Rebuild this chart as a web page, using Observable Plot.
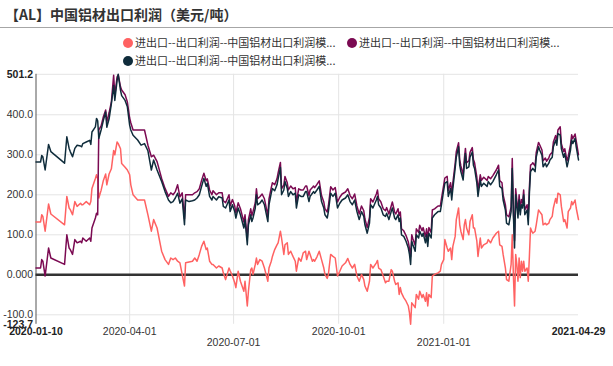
<!DOCTYPE html>
<html><head><meta charset="utf-8">
<script src="https://cdn.jsdelivr.net/npm/d3@7"></script>
<script src="https://cdn.jsdelivr.net/npm/@observablehq/plot@0.6"></script>
<style>
body{margin:0;background:#fff;width:613px;height:366px;overflow:hidden;font-family:"Noto Sans CJK SC","Liberation Sans",sans-serif;}
#title{height:27px;line-height:28px;padding-left:5px;font-size:14px;font-weight:bold;color:#333;box-sizing:border-box;white-space:nowrap;}
#sep{height:1px;background:#a6a6a6;}
#legend{height:38px;box-sizing:border-box;padding:5px 0 0 123px;font-size:11px;color:#333;}
.row{height:18px;line-height:18px;white-space:nowrap;}
.item{display:inline-block;width:224px;}
.dot{display:inline-block;width:10px;height:10px;border-radius:50%;vertical-align:-1px;margin-right:2px;}
#chart svg{display:block}
</style></head><body>
<div id="title"></div><div id="sep"></div><div id="legend"></div><div id="chart"></div>
<script>
const titleText = "【AL】中国铝材出口利润（美元/吨）";
const seriesNames = ["进出口--出口利润--中国铝材出口利润模...", "进出口--出口利润--中国铝材出口利润模...", "进出口--出口利润--中国铝材出口利润模..."];
const seriesColors = ["#ff6262", "#7b0a52", "#0f2c3b"];

const dates = [
"2020-01-10","2020-01-14","2020-01-15","2020-01-16","2020-01-18","2020-01-21","2020-01-23",
"2020-02-04","2020-02-06","2020-02-08","2020-02-09","2020-02-11","2020-02-13","2020-02-15","2020-02-18","2020-02-19","2020-02-20","2020-02-23","2020-02-26","2020-02-27","2020-02-28",
"2020-03-02","2020-03-03","2020-03-04","2020-03-05","2020-03-07","2020-03-09","2020-03-11","2020-03-12","2020-03-14","2020-03-16","2020-03-18","2020-03-19","2020-03-21","2020-03-22","2020-03-24","2020-03-25","2020-03-28","2020-03-30",
"2020-04-01","2020-04-02","2020-04-04","2020-04-08","2020-04-11","2020-04-14","2020-04-17","2020-04-20","2020-04-22","2020-04-25","2020-04-29",
"2020-05-02","2020-05-05","2020-05-07","2020-05-09","2020-05-11","2020-05-13","2020-05-15","2020-05-17","2020-05-19","2020-05-20","2020-05-23","2020-05-26","2020-05-28","2020-05-30",
"2020-06-01","2020-06-03","2020-06-05","2020-06-07","2020-06-08","2020-06-10","2020-06-12","2020-06-13","2020-06-16","2020-06-18","2020-06-21","2020-06-22","2020-06-24","2020-06-27","2020-06-28","2020-06-30",
"2020-07-02","2020-07-03","2020-07-05","2020-07-07","2020-07-10","2020-07-11","2020-07-13","2020-07-14","2020-07-16","2020-07-17","2020-07-18","2020-07-20","2020-07-21","2020-07-22","2020-07-24","2020-07-26","2020-07-28","2020-07-31",
"2020-08-01","2020-08-03","2020-08-04","2020-08-06","2020-08-08","2020-08-09","2020-08-11","2020-08-12","2020-08-14","2020-08-15","2020-08-17","2020-08-18","2020-08-20","2020-08-22","2020-08-24","2020-08-25","2020-08-27","2020-08-29","2020-08-31",
"2020-09-02","2020-09-03","2020-09-05","2020-09-06","2020-09-08","2020-09-09","2020-09-10","2020-09-12","2020-09-14","2020-09-16","2020-09-18","2020-09-19","2020-09-21","2020-09-22","2020-09-24","2020-09-26","2020-09-28","2020-09-30",
"2020-10-02","2020-10-04","2020-10-07","2020-10-09","2020-10-11","2020-10-13","2020-10-15","2020-10-17","2020-10-19","2020-10-21","2020-10-23","2020-10-24","2020-10-26","2020-10-28","2020-10-29","2020-10-31",
"2020-11-03","2020-11-04","2020-11-05","2020-11-07","2020-11-09","2020-11-11","2020-11-12","2020-11-14","2020-11-16","2020-11-17","2020-11-19","2020-11-20","2020-11-22","2020-11-23","2020-11-24","2020-11-25","2020-11-27","2020-11-29",
"2020-12-01","2020-12-02","2020-12-03","2020-12-04","2020-12-05","2020-12-07","2020-12-08","2020-12-10","2020-12-11","2020-12-13","2020-12-14","2020-12-16","2020-12-17","2020-12-18","2020-12-19","2020-12-21","2020-12-22","2020-12-24","2020-12-27","2020-12-29","2020-12-30",
"2021-01-01","2021-01-02","2021-01-04","2021-01-05","2021-01-07","2021-01-08","2021-01-09","2021-01-11","2021-01-12","2021-01-14","2021-01-15","2021-01-16","2021-01-18","2021-01-19","2021-01-20","2021-01-21","2021-01-23","2021-01-24","2021-01-26","2021-01-27","2021-01-28","2021-01-30","2021-01-31",
"2021-02-02","2021-02-03","2021-02-05","2021-02-08","2021-02-09","2021-02-11","2021-02-13","2021-02-16","2021-02-18","2021-02-19","2021-02-21","2021-02-22","2021-02-24","2021-02-25","2021-02-27",
"2021-03-01","2021-03-02","2021-03-03","2021-03-04","2021-03-05","2021-03-06","2021-03-07","2021-03-08","2021-03-09","2021-03-10","2021-03-11","2021-03-12","2021-03-13","2021-03-15","2021-03-16","2021-03-17","2021-03-18","2021-03-19","2021-03-20","2021-03-22","2021-03-23","2021-03-25","2021-03-26","2021-03-28","2021-03-29","2021-03-31",
"2021-04-01","2021-04-03","2021-04-04","2021-04-06","2021-04-07","2021-04-09","2021-04-10","2021-04-11","2021-04-13","2021-04-14","2021-04-16","2021-04-17","2021-04-19","2021-04-20","2021-04-22","2021-04-23","2021-04-24","2021-04-26","2021-04-27","2021-04-29"
];

// series 1 (red)
const seriesRed = [
132,132,150,146,109,177,152,
125,196,167,163,150,183,171,179,175,175,183,175,183,216,
241,250,240,192,211,236,252,225,252,265,311,300,332,328,315,278,269,262,
250,225,200,187,187,187,150,109,138,117,59,
38,26,42,38,42,34,30,1,-28,30,32,34,42,34,
51,71,84,63,67,34,26,26,17,22,17,5,-12,17,10,-3,
-20,-32,9,-16,-41,-16,-78,-41,13,17,1,26,42,26,38,34,17,-16,
17,34,46,63,75,80,109,92,51,75,80,51,59,46,34,9,42,34,55,
59,38,59,51,34,38,34,45,59,38,17,1,-9,1,51,46,42,-3,
9,22,30,41,26,17,26,-3,-16,1,-12,-28,-41,-16,26,17,
30,36,17,13,-3,-20,-16,-16,13,9,-16,-24,-20,-49,-32,-45,-57,-66,
-78,-95,-123.7,-70,-74,-82,-49,-61,-41,-57,-49,-66,-45,-78,-49,-57,-3,1,5,9,26,
38,88,67,59,67,38,71,96,138,167,125,109,88,125,138,117,100,133,150,117,117,84,46,
92,67,75,80,88,80,92,104,109,75,71,51,17,-12,-16,
26,100,-3,-78,51,26,-16,42,-7,34,9,34,9,17,-16,46,117,109,104,109,125,162,158,150,125,129,
125,129,138,146,167,191,179,204,200,171,133,138,117,158,167,183,175,187,167,138
];

// series 2 (magenta)
const seriesMagenta = [
17,17,38,34,-3,67,42,
26,100,67,63,51,88,80,84,80,92,84,92,84,117,
142,154,150,362,372,395,412,382,405,432,499,448,495,500,470,462,450,432,
392,380,362,362,362,362,324,295,299,283,241,
216,196,205,200,208,225,195,205,140,200,200,200,205,208,
215,236,254,235,240,212,200,210,200,205,205,185,180,200,172,188,
172,155,180,165,132,150,90,138,165,148,158,180,215,190,195,202,190,148,
190,218,230,225,240,255,281,215,225,246,230,212,222,215,218,182,215,212,212,
222,222,198,212,218,222,218,226,235,198,182,165,157,172,220,212,218,182,
194,202,207,215,198,190,202,172,152,172,160,140,118,144,190,182,
202,212,190,182,165,160,168,152,172,182,157,152,165,148,157,115,110,98,
82,66,45,100,90,74,115,106,124,110,118,95,115,86,118,106,162,165,172,172,190,
225,242,246,210,230,202,230,278,308,330,288,272,250,288,316,280,285,306,318,288,280,244,212,
250,236,244,236,246,240,248,262,274,236,230,200,175,150,145,
170,291,160,85,215,185,155,200,162,188,180,212,162,175,140,218,274,276,280,272,306,331,325,312,285,292,
284,292,300,306,332,348,336,362,370,328,308,315,285,296,325,350,340,352,335,300
];

// series 3 (navy)
const seriesNavy = [
282,282,298,295,262,326,308,
279,345,316,308,295,316,324,322,320,328,332,336,326,357,
370,391,385,341,362,386,407,369,390,428,473,436,486,501.2,461,448,436,420,
374,362,349,337,324,328,310,262,287,262,233,
208,187,180,183,192,204,179,190,125,187,183,185,187,192,
200,221,241,221,229,196,187,196,187,195,192,171,167,187,158,175,
158,142,167,150,117,138,75,125,150,133,142,167,200,175,179,187,175,133,
175,204,216,210,225,240,268,200,212,233,216,196,208,200,204,167,200,196,196,
208,208,183,196,204,208,204,212,221,183,167,150,142,158,204,196,204,167,
179,187,192,200,183,175,187,158,138,158,146,125,104,129,175,167,
187,196,175,167,150,146,154,138,158,167,142,138,150,133,142,100,96,84,
67,51,26,84,75,59,100,92,109,96,104,80,100,71,104,92,142,150,158,158,175,
212,229,233,196,216,187,216,266,294,320,274,258,237,274,303,266,270,294,307,274,266,229,196,
237,221,229,221,233,225,233,250,262,221,216,187,162,129,125,
158,266,150,67,200,171,142,187,150,175,167,200,150,162,125,204,258,262,266,258,294,320,312,299,270,279,
270,279,287,294,320,337,324,353,349,315,294,303,270,283,312,337,328,341,320,287
];

const yTicks = [501.2, 400, 300, 200, 100, 0, -100, -123.7];
const yTickLabels = ["501.2", "400.0", "300.0", "200.0", "100.0", "0.000", "-100.0", "-123.7"];
const xTicks = ["2020-01-10", "2020-04-01", "2020-07-01", "2020-10-01", "2021-01-01", "2021-04-29"];

// ---- header ----
document.getElementById("title").textContent = titleText;
const legend = document.getElementById("legend");
const rows = [[0, 1], [2]];
rows.forEach(r => {
  const row = document.createElement("div");
  row.className = "row";
  r.forEach(i => {
    const it = document.createElement("span");
    it.className = "item";
    const dot = document.createElement("span");
    dot.className = "dot";
    dot.style.background = seriesColors[i];
    it.appendChild(dot);
    it.appendChild(document.createTextNode(seriesNames[i]));
    row.appendChild(it);
  });
  legend.appendChild(row);
});

// ---- data tables ----
const parse = d => new Date(d + "T00:00:00Z");
const allSeries = [seriesRed, seriesMagenta, seriesNavy];
const tables = allSeries.map(s => dates.map((d, i) => ({date: parse(d), value: s[i]})));
const allVals = allSeries.flat();
const yMin = d3.min(allVals), yMax = d3.max(allVals);
const xDomain = [parse(dates[0]), parse(dates[dates.length - 1])];
const lastX = xTicks.length - 1;
const xTickData = xTicks.map((d, i) => ({
  date: parse(d), label: d,
  bold: i === 0 || i === lastX,
  low: i > 0 && i < lastX && i % 2 === 0
}));
const yTickData = yTicks.map((v, i) => ({v, label: yTickLabels[i], bold: i === 0 || i === yTicks.length - 1}));

const chart = Plot.plot({
  width: 613,
  height: 300,
  marginLeft: 35.5,
  marginRight: 35,
  marginTop: 7.8,
  marginBottom: 42.2,
  x: {type: "utc", domain: xDomain, axis: null},
  y: {domain: [yMin, yMax], axis: null},
  style: {fontFamily: "'Liberation Sans', Arial, sans-serif", fontSize: "10.5px", color: "#333", background: "#fff", overflow: "visible"},
  marks: [
    Plot.ruleY(yTicks.filter(v => v !== 0 && v !== yMin), {stroke: "#e4e4e4", strokeWidth: 1}),
    Plot.ruleX(xTickData.slice(1, -1), {x: "date", stroke: "#e4e4e4", strokeWidth: 1}),
    Plot.ruleX([xDomain[0]], {stroke: "#555", strokeWidth: 1}),
    Plot.ruleY([0], {stroke: "#333", strokeWidth: 2.5}),
    ...tables.map((t, i) => Plot.line(t, {x: "date", y: "value", stroke: seriesColors[i], strokeWidth: 1.5})),
    Plot.text(yTickData.filter(d => !d.bold), {y: "v", text: "label", frameAnchor: "left", textAnchor: "end", dx: -3, fill: "#333", fontWeight: "normal"}),
    Plot.text(yTickData.filter(d => d.bold), {y: "v", text: "label", frameAnchor: "left", textAnchor: "end", dx: -3, fill: "#222", fontWeight: "bold"}),
    Plot.text(xTickData.filter(d => !d.bold && !d.low), {x: "date", text: "label", frameAnchor: "bottom", dy: 11, fill: "#333"}),
    Plot.text(xTickData.filter(d => !d.bold && d.low), {x: "date", text: "label", frameAnchor: "bottom", dy: 22, fill: "#333"}),
    Plot.text(xTickData.filter(d => d.bold), {x: "date", text: "label", frameAnchor: "bottom", dy: 11, fill: "#222", fontWeight: "bold"})
  ]
});
document.getElementById("chart").appendChild(chart);
</script></body></html>
